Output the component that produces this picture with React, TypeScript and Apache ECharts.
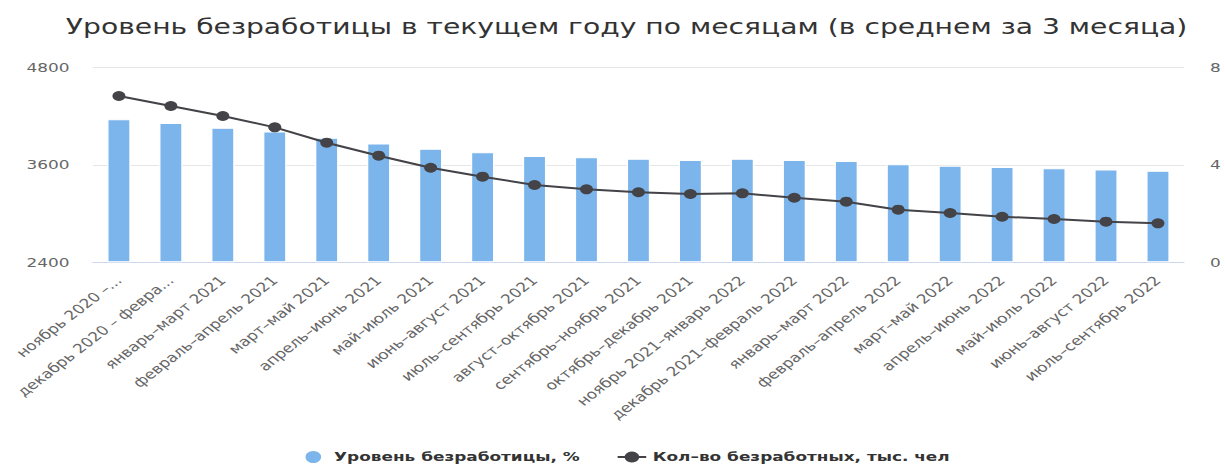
import React, { useEffect, useRef } from "react";
import * as echarts from "echarts";

const categories = [
  "ноябрь 2020 –...",
  "декабрь 2020 – февра...",
  "январь–март 2021",
  "февраль–апрель 2021",
  "март–май 2021",
  "апрель–июнь 2021",
  "май–июль 2021",
  "июнь–август 2021",
  "июль–сентябрь 2021",
  "август–октябрь 2021",
  "сентябрь–ноябрь 2021",
  "октябрь–декабрь 2021",
  "ноябрь 2021–январь 2022",
  "декабрь 2021–февраль 2022",
  "январь–март 2022",
  "февраль–апрель 2022",
  "март–май 2022",
  "апрель–июнь 2022",
  "май–июль 2022",
  "июнь–август 2022",
  "июль–сентябрь 2022",
];

const unemploymentRate = [
  5.87, 5.71, 5.52, 5.37, 5.11, 4.87, 4.66, 4.51, 4.36, 4.31, 4.25, 4.2, 4.25,
  4.2, 4.16, 4.02, 3.96, 3.91, 3.86, 3.81, 3.76,
];

const unemployedCount = [
  4447, 4324, 4201, 4061, 3872, 3712, 3564, 3454, 3351, 3298, 3262, 3241, 3249,
  3195, 3146, 3048, 3007, 2961, 2933, 2900, 2880,
];

const TITLE = "Уровень безработицы в текущем году по месяцам (в среднем за 3 месяца)";
const RATE_NAME = "Уровень безработицы, %";
const COUNT_NAME = "Кол–во безработных, тыс. чел";

const S = 1.3;
const FULL_W = 1225;
const H = 465;
const W = FULL_W / S;
const FONT = "'DejaVu Sans', sans-serif";

export default function App() {
  const ref = useRef<HTMLDivElement>(null);

  useEffect(() => {
    if (!ref.current) return;
    const chart = echarts.init(ref.current, undefined, { renderer: "svg" });
    chart.setOption({
      animation: false,
      backgroundColor: "#ffffff",
      textStyle: { fontFamily: FONT },
      title: {
        text: TITLE,
        left: 477,
        top: 11,
        textAlign: "center",
        textStyle: {
          fontFamily: FONT,
          fontSize: 21.7,
          fontWeight: "normal",
          color: "#333333",
        },
      },
      legend: {
        left: 228,
        top: 444,
        itemGap: 28,
        itemWidth: 22,
        itemHeight: 14,
        textStyle: {
          fontFamily: FONT,
          fontSize: 13,
          fontWeight: "bold",
          color: "#333333",
        },
        data: [{ name: RATE_NAME, icon: "circle" }, { name: COUNT_NAME }],
      },
      grid: {
        left: 71.5,
        right: W - 913.8,
        top: 67.3,
        bottom: H - 262.3,
        containLabel: false,
      },
      xAxis: {
        type: "category",
        data: categories,
        axisLine: { show: true, lineStyle: { color: "#ccd6eb", width: 1 } },
        axisTick: { show: false },
        axisLabel: {
          rotate: 45,
          interval: 0,
          margin: 16,
          fontFamily: FONT,
          fontSize: 13,
          color: "#666666",
        },
      },
      yAxis: [
        {
          type: "value",
          min: 2400,
          max: 4800,
          interval: 1200,
          position: "left",
          axisLine: { show: false },
          axisTick: { show: false },
          splitLine: { lineStyle: { color: "#e6e6e6", width: 1 } },
          axisLabel: {
            margin: 18,
            fontFamily: FONT,
            fontSize: 13,
            color: "#666666",
            formatter: (v: number) => String(v),
          },
        },
        {
          type: "value",
          min: 0,
          max: 8,
          interval: 4,
          position: "right",
          axisLine: { show: false },
          axisTick: { show: false },
          splitLine: { show: false },
          axisLabel: {
            margin: 20,
            fontFamily: FONT,
            fontSize: 13,
            color: "#666666",
          },
        },
      ],
      series: [
        {
          name: RATE_NAME,
          type: "bar",
          yAxisIndex: 1,
          data: unemploymentRate,
          barWidth: 18,
          itemStyle: {
            color: "#7cb5ec",
            borderColor: "#ffffff",
            borderWidth: 1,
          },
        },
        {
          name: COUNT_NAME,
          type: "line",
          yAxisIndex: 0,
          data: unemployedCount,
          symbol: "circle",
          symbolSize: 10,
          lineStyle: { color: "#434348", width: 2 },
          itemStyle: { color: "#434348" },
          z: 5,
        },
      ],
    });
    return () => chart.dispose();
  }, []);

  return (
    <div
      style={{
        position: "fixed",
        left: 0,
        top: 0,
        width: FULL_W,
        height: H,
        overflow: "hidden",
        background: "#fff",
      }}
    >
      <div
        ref={ref}
        style={{
          width: W,
          height: H,
          transform: `scaleX(${S})`,
          transformOrigin: "0 0",
        }}
      />
    </div>
  );
}
